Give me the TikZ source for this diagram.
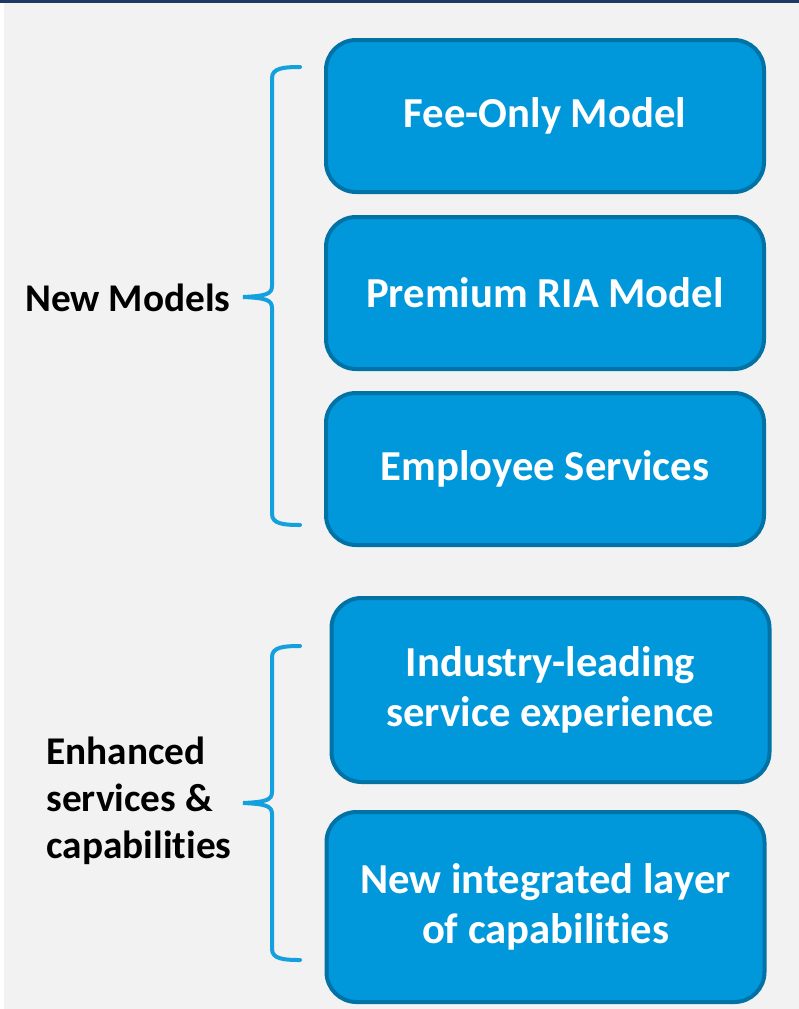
\documentclass[tikz,border=0pt]{standalone}
\usepackage{fontspec}
\setmainfont{Carlito}[Ligatures=NoCommon]
\usetikzlibrary{positioning,calc}
\definecolor{boxblue}{RGB}{0,152,218}
\definecolor{boxedge}{RGB}{0,114,166}
\definecolor{bracketblue}{RGB}{20,160,222}
\definecolor{pagegray}{RGB}{242,242,242}
\definecolor{topline}{RGB}{31,56,100}
\tikzset{
  model/.style={rounded corners=30pt, fill=boxblue, draw=boxedge,
    line width=4pt, text=white, font=\bfseries\fontsize{42.7}{50}\selectfont,
    minimum width=438pt, align=center, outer sep=0pt, inner sep=0pt},
  group/.style={font=\bfseries\fontsize{39.3}{47}\selectfont, align=left},
  bracket/.style={draw=bracketblue, line width=4pt, line cap=round},
}
\begin{document}
\begin{tikzpicture}[x=1pt,y=-1pt]
   \useasboundingbox (0,0) rectangle (799,1009);
   % page
   \fill[white]    (0,0) rectangle (799,1009);
   \fill[pagegray] (4,3) rectangle (799,1009);
   \fill[topline]  (0,0) rectangle (799,3);

   % new models
   \node[model, minimum height=152pt] (feeonly) at (545,116) {Fee-Only Model};
   \node[model, minimum height=152pt, below=25pt of feeonly] (premium) {Premium RIA Model};
   \node[model, minimum height=152pt, below=24pt of premium] (employee) {Employee Services};

   % enhanced services
   \node[model, minimum height=184pt] (industry) at (550.5,690)
      {Industry-leading\\service experience};
   \node[model, minimum height=190pt, below=30pt of industry, xshift=-5pt] (layer)
      {New integrated layer\\of capabilities};

   % labels
   \node[group, anchor=east] (newmodels) at (234,298) {New Models};
   \node[group, anchor=west] (enhanced) at (43,801)
      {Enhanced\\services \&\\capabilities};

   % brackets
   \draw[bracket] (300,67) .. controls (284,67) and (272,68) .. (272,78)
      -- (272,286) .. controls (272,294) and (266,296) .. (243,297)
      .. controls (266,298) and (272,300) .. (272,308)
      -- (272,514) .. controls (272,524) and (284,525) .. (300,525);
   \draw[bracket] (300,646) .. controls (284,646) and (272,647) .. (272,657)
      -- (272,792) .. controls (272,800) and (266,802) .. (243,803)
      .. controls (266,804) and (272,806) .. (272,814)
      -- (272,949) .. controls (272,959) and (284,960) .. (300,960);
\end{tikzpicture}
\end{document}
